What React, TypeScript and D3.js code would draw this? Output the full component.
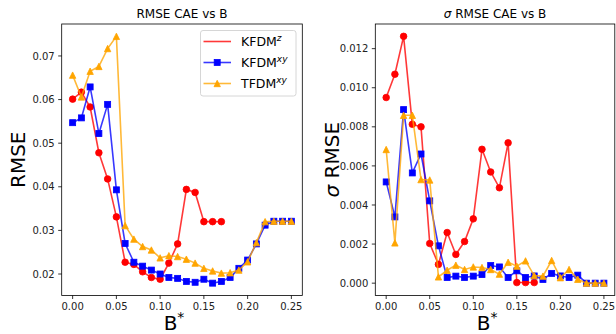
import React from "react";
import * as d3 from "d3";

// Shared B* sample points
const bValues = [
  0.0, 0.01, 0.02, 0.03, 0.04, 0.05, 0.06, 0.07, 0.08, 0.09, 0.1, 0.11, 0.12,
  0.13, 0.14, 0.15, 0.16, 0.17, 0.18, 0.19, 0.2, 0.21, 0.22, 0.23, 0.24, 0.25,
];

// RMSE of the CAE
const rmseKfdmZ = [
  0.0601, 0.0617, 0.0583, 0.0478, 0.0418, 0.0331, 0.0227, 0.0222, 0.0205,
  0.0192, 0.0188, 0.0225, 0.0269, 0.0394, 0.0387, 0.032, 0.032, 0.032,
];
const rmseKfdmXY = [
  0.0547, 0.0558, 0.0629, 0.0522, 0.0589, 0.0393, 0.027, 0.0227, 0.0218,
  0.0209, 0.02, 0.0192, 0.019, 0.0183, 0.0181, 0.0188, 0.0179, 0.0183, 0.0192,
  0.0213, 0.0232, 0.0269, 0.0312, 0.0321, 0.0321, 0.0321,
];
const rmseTfdmXY = [
  0.0656, 0.0606, 0.0665, 0.0676, 0.0717, 0.0745, 0.0311, 0.028, 0.0263,
  0.0255, 0.0237, 0.0242, 0.024, 0.0234, 0.0225, 0.0213, 0.0207, 0.0202,
  0.0203, 0.0209, 0.0228, 0.0272, 0.032, 0.0321, 0.0321, 0.0321,
];

// Standard deviation of the RMSE
const sigmaKfdmZ = [
  0.0095, 0.01069, 0.01263, 0.00813, 0.008, 0.00203, 0.00096, 0.00259,
  0.00147, 0.00213, 0.00329, 0.00685, 0.00569, 0.00488, 0.00718, 0.00003,
  0.00003, 0.00003,
];
const sigmaKfdmXY = [
  0.00518, 0.00339, 0.00888, 0.00564, 0.00661, 0.00421, 0.00191, 0.00029,
  0.00036, 0.00029, 0.00036, 0.00044, 0.0009, 0.00083, 0.00029, 0.00063,
  0.00029, 0.00037, 0.00019, 0.0005, 0.00037, 0.00029, 0.00041, 0.0, 0.0, 0.0,
];
const sigmaTfdmXY = [
  0.00684, 0.00206, 0.00859, 0.00859, 0.0053, 0.00528, 0.00032, 0.00066,
  0.00092, 0.0007, 0.00083, 0.0008, 0.0007, 0.00046, 0.00107, 0.00087,
  0.00114, 0.00039, 0.00036, 0.00116, 0.00028, 0.0007, 0.0002, 0.0, 0.0, 0.0,
];

const xTicks = [0, 0.05, 0.1, 0.15, 0.2, 0.25];
const rmseTicks = [0.02, 0.03, 0.04, 0.05, 0.06, 0.07];
const sigmaTicks = [0, 0.002, 0.004, 0.006, 0.008, 0.01, 0.012];

const FONT = "DejaVu Sans, sans-serif";
const RED = "#ff0000";
const BLUE = "#0000ff";
const ORANGE = "#ffa500";

type Marker = "circle" | "square" | "triangle";
type Series = { values: number[]; color: string; marker: Marker };

function MarkerShape({ x, y, kind, color }: { x: number; y: number; kind: Marker; color: string }) {
  if (kind === "circle") return <circle cx={x} cy={y} r={3.3} fill={color} stroke={color} strokeWidth={0.8} />;
  if (kind === "square")
    return <rect x={x - 3} y={y - 3} width={6} height={6} fill={color} stroke={color} strokeWidth={0.8} />;
  const h = 3.2;
  return (
    <polygon
      points={`${x},${y - h} ${x - h},${y + h} ${x + h},${y + h}`}
      fill={color}
      stroke={color}
      strokeWidth={0.8}
      strokeLinejoin="miter"
    />
  );
}

function padded(values: number[]): [number, number] {
  const [lo, hi] = d3.extent(values) as [number, number];
  const m = (hi - lo) * 0.05;
  return [lo - m, hi + m];
}

function Panel({
  left, right, top, bottom, series, yTicks, yFormat, title, ylabel, legend,
}: {
  left: number; right: number; top: number; bottom: number; series: Series[];
  yTicks: number[]; yFormat: string; title: React.ReactNode; ylabel: React.ReactNode; legend?: boolean;
}) {
  const x = d3.scaleLinear().domain(padded(bValues)).range([left, right]);
  const y = d3.scaleLinear().domain(padded(series.flatMap((s) => s.values))).range([bottom, top]);
  const fmtY = d3.format(yFormat);
  const fmtX = d3.format(".2f");
  const line = d3
    .line<number>()
    .x((_, i) => x(bValues[i]))
    .y((v) => y(v));
  const cx = (left + right) / 2;
  const cy = (top + bottom) / 2;
  return (
    <g fontFamily={FONT}>
      {series.map((s, k) => (
        <g key={k}>
          <path d={line(s.values) || ""} fill="none" stroke={s.color} strokeWidth={1.6} strokeOpacity={0.78} />
          {s.values.map((v, i) => (
            <MarkerShape key={i} x={x(bValues[i])} y={y(v)} kind={s.marker} color={s.color} />
          ))}
        </g>
      ))}
      <rect x={left} y={top} width={right - left} height={bottom - top} fill="none" stroke="#000" strokeWidth={0.8} />
      {xTicks.map((t) => (
        <g key={t}>
          <line x1={x(t)} x2={x(t)} y1={bottom} y2={bottom + 3.5} stroke="#000" strokeWidth={0.8} />
          <text x={x(t)} y={bottom + 14.5} fontSize={10} textAnchor="middle" fill="#222">
            {fmtX(t)}
          </text>
        </g>
      ))}
      {yTicks.map((t) => (
        <g key={t}>
          <line x1={left - 3.5} x2={left} y1={y(t)} y2={y(t)} stroke="#000" strokeWidth={0.8} />
          <text x={left - 7} y={y(t) + 3.6} fontSize={10} textAnchor="end" fill="#222">
            {fmtY(t)}
          </text>
        </g>
      ))}
      <text x={cx} y={18} fontSize={12} textAnchor="middle" fill="#000">
        {title}
      </text>
      <text x={cx - 8} y={330} fontSize={20} textAnchor="middle" fill="#000">
        B<tspan fontSize={14} dy={-8}>*</tspan>
      </text>
      <text
        transform={`translate(${left - 36.5},${cy}) rotate(-90)`}
        fontSize={20}
        textAnchor="middle"
        fill="#000"
      >
        {ylabel}
      </text>
      {legend && (
        <g>
          <rect x={200.5} y={30.5} width={95.5} height={65.5} rx={2.5} fill="#fff" fillOpacity={0.8} stroke="#cccccc" strokeWidth={0.8} />
          {[
            { color: RED, marker: null, label: "KFDM", sup: "z", yy: 41.5 },
            { color: BLUE, marker: "square" as Marker, label: "KFDM", sup: "xy", yy: 62.5 },
            { color: ORANGE, marker: "triangle" as Marker, label: "TFDM", sup: "xy", yy: 83.5 },
          ].map((e) => (
            <g key={e.yy}>
              <line x1={203.5} x2={231} y1={e.yy} y2={e.yy} stroke={e.color} strokeWidth={1.6} strokeOpacity={0.78} />
              {e.marker && <MarkerShape x={217.2} y={e.yy} kind={e.marker} color={e.color} />}
              <text x={241} y={e.yy + 4.5} fontSize={12.5} fill="#000">
                {e.label}
                <tspan fontSize={9} fontStyle="italic" dy={-5}>
                  {e.sup}
                </tspan>
              </text>
            </g>
          ))}
        </g>
      )}
    </g>
  );
}

export default function App() {
  return (
    <svg
      width={616}
      height={334}
      viewBox="0 0 616 334"
      style={{ position: "absolute", left: 0, top: 0, background: "#fff" }}
    >
      <rect width={616} height={334} fill="#fff" />
      <Panel
        left={61.7}
        right={302.3}
        top={24}
        bottom={295.5}
        yTicks={rmseTicks}
        yFormat=".2f"
        title="RMSE CAE vs B"
        ylabel="RMSE"
        legend
        series={[
          { values: rmseKfdmZ, color: RED, marker: "circle" },
          { values: rmseKfdmXY, color: BLUE, marker: "square" },
          { values: rmseTfdmXY, color: ORANGE, marker: "triangle" },
        ]}
      />
      <Panel
        left={375.3}
        right={614.8}
        top={24}
        bottom={295.5}
        yTicks={sigmaTicks}
        yFormat=".3f"
        title={
          <>
            <tspan fontStyle="italic">σ</tspan> RMSE CAE vs B
          </>
        }
        ylabel={
          <>
            <tspan fontStyle="italic">σ</tspan> RMSE
          </>
        }
        series={[
          { values: sigmaKfdmZ, color: RED, marker: "circle" },
          { values: sigmaKfdmXY, color: BLUE, marker: "square" },
          { values: sigmaTfdmXY, color: ORANGE, marker: "triangle" },
        ]}
      />
    </svg>
  );
}
